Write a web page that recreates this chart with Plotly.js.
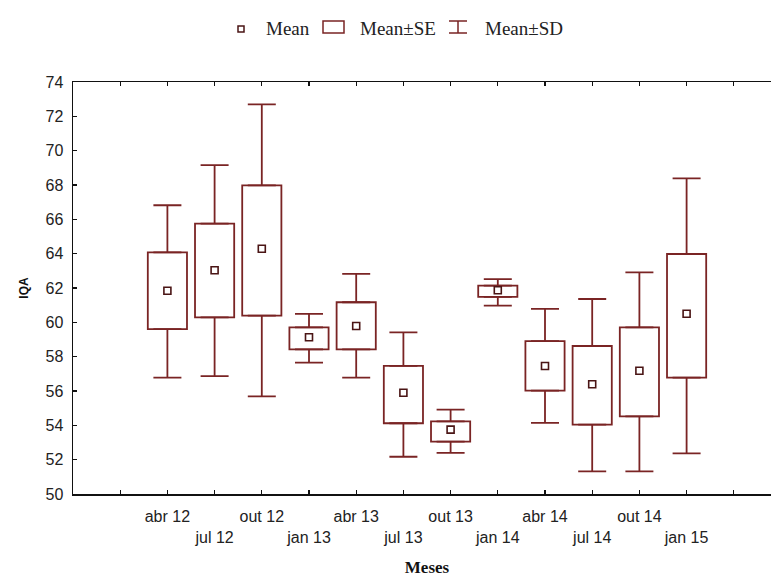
<!DOCTYPE html>
<html><head><meta charset="utf-8">
<script src="https://cdn.plot.ly/plotly-3.0.1.min.js"></script>
<style>html,body{margin:0;padding:0;width:771px;height:579px;overflow:hidden;background:#fff}#chart{width:800px;height:579px}</style>
</head><body><div id="chart"></div>
<script>
// Data (IQA by month)
const months = ['abr 12','jul 12','out 12','jan 13','abr 13','jul 13','out 13','jan 14','abr 14','jul 14','out 14','jan 15'];
const meanVals = [61.84, 63.03, 64.29, 59.13, 59.79, 55.90, 53.75, 61.87, 57.46, 56.39, 57.18, 60.50];
const seHigh   = [64.08, 65.75, 67.98, 59.71, 61.17, 57.46, 54.23, 62.14, 58.91, 58.62, 59.71, 63.98];
const seLow    = [59.61, 60.29, 60.39, 58.43, 58.43, 54.12, 53.05, 61.48, 56.02, 54.04, 54.52, 56.78];
const sdHigh   = [66.82, 69.16, 72.70, 60.49, 62.82, 59.42, 54.91, 62.52, 60.78, 61.36, 62.91, 68.39];
const sdLow    = [56.78, 56.87, 55.69, 57.65, 56.78, 52.17, 52.39, 60.97, 54.14, 51.32, 51.32, 52.37];
const legendLabels = ['Mean', 'Mean\u00b1SE', 'Mean\u00b1SD'];
const xTitle = 'Meses';
const yTitle = 'IQA';

const C = '#7a2424';
const pos = months.map((m, i) => i + 1);
const tickVals = [0].concat(pos, [months.length + 1]);
const tickText = [''].concat(months.map((m, i) => i % 2 ? '<br>' + m : m), ['']);

const traces = [
  { type: 'bar', x: pos, base: seLow, y: seHigh.map((h, i) => h - seLow[i]), width: 0.83,
    marker: { color: '#fff', line: { color: C, width: 1.8 } }, hoverinfo: 'skip', showlegend: false },
  { type: 'scatter', mode: 'markers', x: pos, y: seHigh, marker: { size: 1, color: 'rgba(0,0,0,0)' },
    error_y: { type: 'data', symmetric: false, array: sdHigh.map((v, i) => v - seHigh[i]), arrayminus: pos.map(() => 0),
      width: 14, thickness: 1.8, color: C }, hoverinfo: 'skip', showlegend: false },
  { type: 'scatter', mode: 'markers', x: pos, y: seLow, marker: { size: 1, color: 'rgba(0,0,0,0)' },
    error_y: { type: 'data', symmetric: false, array: pos.map(() => 0), arrayminus: seLow.map((v, i) => v - sdLow[i]),
      width: 14, thickness: 1.8, color: C }, hoverinfo: 'skip', showlegend: false },
  { type: 'scatter', mode: 'markers', x: pos, y: meanVals, name: 'Mean',
    marker: { symbol: 'square-open', size: 7, color: '#4a1515', line: { width: 1.6, color: '#4a1515' } }, showlegend: false }
];

// plot area geometry (px) for legend placement
const L = 73, T = 82, W = 708, H = 412;
const px = v => (v - L) / W;
const py = v => (T + H - v) / H;
const ly = 29;
const serif = 'Liberation Serif, Times New Roman, serif';
const sans = 'Liberation Sans, Arial, sans-serif';

const shapes = [
  { type: 'rect', xref: 'paper', yref: 'paper', x0: px(238), x1: px(244), y0: py(32), y1: py(26), line: { color: '#4a1515', width: 1.5 } },
  { type: 'rect', xref: 'paper', yref: 'paper', x0: px(323), x1: px(344), y0: py(33), y1: py(21), line: { color: C, width: 1.5 } },
  { type: 'path', xref: 'paper', yref: 'paper',
    path: `M${px(449)},${py(21)} L${px(467)},${py(21)} M${px(458)},${py(21)} L${px(458)},${py(33)} M${px(449)},${py(33)} L${px(467)},${py(33)}`,
    line: { color: C, width: 1.5 } }
];
const annX = [264, 358, 483];
const annotations = legendLabels.map((t, i) => ({
  xref: 'paper', yref: 'paper', x: px(annX[i]), y: py(ly), xanchor: 'left', yanchor: 'middle',
  text: t, showarrow: false, font: { family: serif, size: 19, color: '#222' }
}));

const layout = {
  width: 800, height: 579,
  margin: { l: L, r: 800 - L - W, t: T, b: 579 - T - H },
  paper_bgcolor: '#fff', plot_bgcolor: '#fff',
  showlegend: false, barmode: 'overlay',
  font: { family: sans, color: '#222' },
  xaxis: { range: [-1, 14], tickvals: tickVals, ticktext: tickText, tickangle: 0,
    showline: true, linecolor: '#111', linewidth: 1.5, mirror: 'ticks',
    ticks: 'inside', ticklen: 4, tickwidth: 1.3, tickcolor: '#111', ticklabelstandoff: 7,
    showgrid: false, zeroline: false, tickfont: { family: sans, size: 16, color: '#222' },
    title: { text: '<b>' + xTitle + '</b>', font: { family: serif, size: 17, color: '#111' }, standoff: 16 } },
  yaxis: { range: [50, 74], tick0: 50, dtick: 2,
    showline: true, linecolor: '#111', linewidth: 1.5, mirror: 'ticks',
    ticks: 'inside', ticklen: 4, tickwidth: 1.3, tickcolor: '#111', ticklabelstandoff: 5,
    showgrid: false, zeroline: false, tickfont: { family: sans, size: 16, color: '#222' },
    title: { text: '<b>' + yTitle + '</b>', font: { family: sans, size: 12, color: '#111' }, standoff: 14 } },
  shapes: shapes, annotations: annotations
};

Plotly.newPlot('chart', traces, layout, { staticPlot: true });
</script></body></html>
